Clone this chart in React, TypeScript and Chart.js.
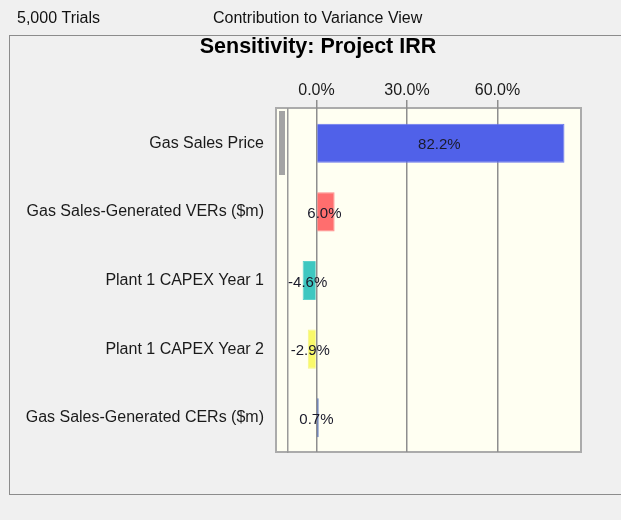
import React, { useEffect, useRef } from "react";
import { Chart, registerables } from "chart.js";

Chart.register(...registerables);

const headerLeft = "5,000 Trials";
const headerView = "Contribution to Variance View";
const chartTitle = "Sensitivity: Project IRR";
const categories = [
  "Gas Sales Price",
  "Gas Sales-Generated VERs ($m)",
  "Plant 1 CAPEX Year 1",
  "Plant 1 CAPEX Year 2",
  "Gas Sales-Generated CERs ($m)",
];
const contributions = [82.2, 6.0, -4.6, -2.9, 0.7];
const barColors = ["#5061e9", "#ff6e6e", "#3ec7c0", "#f9f96a", "#2a4ea8"];
const barBorders = ["#6a78ee", "#ff8a8a", "#5cd2cc", "#f4f48a", "#2a4ea8"];
const tickValues = [0, 30, 60];

const FONT = '"Liberation Sans", Arial, sans-serif';

const framePlugin = {
  id: "frame",
  beforeDraw(chart: any) {
    const ctx = chart.ctx as CanvasRenderingContext2D;
    const ca = chart.chartArea;
    ctx.save();
    ctx.fillStyle = "#f0f0f0";
    ctx.fillRect(0, 0, chart.width, chart.height);
    // header
    ctx.fillStyle = "#111";
    ctx.font = `16px ${FONT}`;
    ctx.textBaseline = "alphabetic";
    ctx.textAlign = "left";
    ctx.fillText(headerLeft, 17, 23);
    ctx.fillText(headerView, 213, 23);
    // panel border
    ctx.strokeStyle = "#8c8c8c";
    ctx.lineWidth = 1;
    ctx.strokeRect(9.5, 35.5, 700, 459);
    // title
    ctx.font = `bold 21.5px ${FONT}`;
    ctx.textAlign = "center";
    ctx.fillStyle = "#000";
    ctx.fillText(chartTitle, 318, 53);
    // plot box
    const boxL = ca.left - 12;
    const boxT = ca.top - 1;
    ctx.fillStyle = "#fffff2";
    ctx.fillRect(boxL, boxT, ca.right - boxL, ca.bottom - boxT);
    ctx.strokeStyle = "#ababab";
    ctx.lineWidth = 2;
    ctx.strokeRect(boxL, boxT, ca.right - boxL, ca.bottom - boxT);
    // scrollbar thumb
    ctx.fillStyle = "#a4a4a4";
    ctx.fillRect(boxL + 3, boxT + 3, 6, 64);
    ctx.restore();
  },
  afterDatasetsDraw(chart: any) {
    const ctx = chart.ctx as CanvasRenderingContext2D;
    const meta = chart.getDatasetMeta(0);
    ctx.save();
    ctx.font = `15px ${FONT}`;
    ctx.fillStyle = "#1a1a2a";
    ctx.textAlign = "center";
    ctx.textBaseline = "middle";
    meta.data.forEach((bar: any, i: number) => {
      const cx = (bar.x + bar.base) / 2 - 1.5;
      ctx.fillText(contributions[i].toFixed(1) + "%", cx, bar.y + 2);
    });
    ctx.restore();
  },
};

export default function App() {
  const ref = useRef<HTMLCanvasElement>(null);
  useEffect(() => {
    if (!ref.current) return;
    const chart = new Chart(ref.current, {
      type: "bar",
      data: {
        labels: categories,
        datasets: [
          {
            data: contributions,
            backgroundColor: barColors,
            borderColor: barBorders,
            borderWidth: 1,
            barPercentage: 0.57,
            categoryPercentage: 1,
          },
        ],
      },
      options: {
        indexAxis: "y",
        animation: false,
        responsive: false,
        devicePixelRatio: 1,
        layout: { padding: { left: 0, top: 0, right: 40, bottom: 68 } },
        plugins: {
          legend: { display: false },
          tooltip: { enabled: false },
          title: { display: false },
        },
        scales: {
          x: {
            position: "top",
            min: -9.45,
            max: 87.68,
            afterBuildTicks: (scale: any) => {
              scale.ticks = tickValues.map((v) => ({ value: v }));
            },
            afterFit: (scale: any) => {
              scale.height = 109;
            },
            ticks: {
              callback: (v: any) => Number(v).toFixed(1) + "%",
              font: { family: FONT, size: 16 },
              color: "#1a1a1a",
              padding: 0,
              maxRotation: 0,
              autoSkip: false,
            },
            grid: {
              color: "#8e8e8e",
              lineWidth: 1.5,
              drawTicks: true,
              tickLength: 9,
              tickColor: "#8e8e8e",
            },
            border: { display: false },
          },
          y: {
            afterFit: (scale: any) => {
              scale.width = 288;
            },
            ticks: {
              font: { family: FONT, size: 16 },
              color: "#1a1a1a",
              padding: 24,
            },
            grid: { display: false, drawTicks: false },
            border: { display: true, color: "#9a9a9a", width: 1.5 },
          },
        },
      },
      plugins: [framePlugin],
    } as any);
    return () => chart.destroy();
  }, []);
  return (
    <div style={{ position: "absolute", left: 0, top: 0, width: 621, height: 520, background: "#f0f0f0" }}>
      <canvas ref={ref} width={621} height={520} style={{ display: "block" }} />
    </div>
  );
}
